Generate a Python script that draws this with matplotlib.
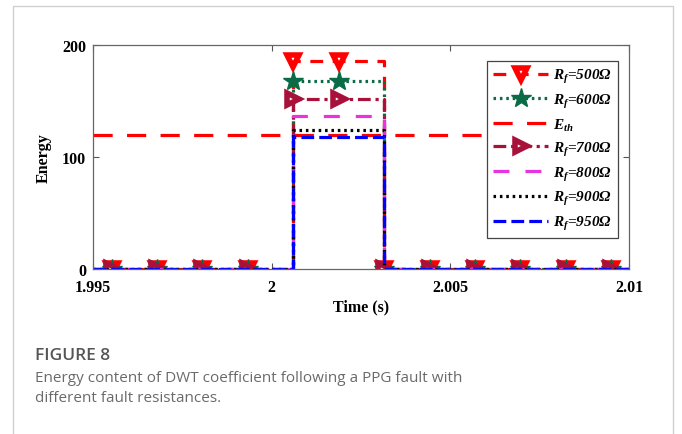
import matplotlib
matplotlib.use("Agg")
import matplotlib.pyplot as plt
from matplotlib.patches import Rectangle

# sample instants of the DWT energy window (s)
t = [1.995, 1.99552, 1.99679, 1.99806, 1.99933, 2.00061, 2.00188,
     2.00315, 2.00442, 2.00569, 2.00696, 2.00823, 2.0095, 2.01]

# energy plateau during the fault for each fault resistance
e_500 = [0, 0, 0, 0, 0, 186, 186, 0, 0, 0, 0, 0, 0, 0]
e_600 = [0, 0, 0, 0, 0, 168, 168, 0, 0, 0, 0, 0, 0, 0]
e_700 = [0, 0, 0, 0, 0, 152, 152, 0, 0, 0, 0, 0, 0, 0]
e_800 = [0, 0, 0, 0, 0, 137, 137, 0, 0, 0, 0, 0, 0, 0]
e_900 = [0, 0, 0, 0, 0, 124, 124, 0, 0, 0, 0, 0, 0, 0]
e_950 = [0, 0, 0, 0, 0, 118, 118, 0, 0, 0, 0, 0, 0, 0]
e_th = 120

xticks = [1.995, 2.0, 2.005, 2.01]
xtick_labels = ["1.995", "2", "2.005", "2.01"]
yticks = [0, 100, 200]

plt.rcParams["font.family"] = "Liberation Serif"
plt.rcParams["mathtext.fontset"] = "custom"
plt.rcParams["mathtext.it"] = "Liberation Serif:italic:bold"
plt.rcParams["mathtext.rm"] = "Liberation Serif:italic:bold"

fig = plt.figure(figsize=(6.82, 4.35), dpi=100)

# card outline
fig.patches.append(Rectangle((13 / 682, -0.1), 660 / 682, 1.1 - 7 / 435,
                             transform=fig.transFigure, fill=False,
                             edgecolor="#d0d0d0", linewidth=1.0))

ax = fig.add_axes([93 / 682, 1 - 270 / 435, 536 / 682, 224 / 435])

lw = 2.3
mk = slice(1, -1)
ax.plot(t, e_500, color="#ff0000", lw=lw, dashes=(4, 3), drawstyle="steps-post",
        marker="v", markersize=9, mfc="white", mec="#ff0000", mew=4,
        markevery=mk, label=r"$R_f$=500Ω")
ax.plot(t, e_600, color="#0b6b47", lw=lw, dashes=(0.8, 1.2), drawstyle="steps-post",
        marker="*", markersize=15, mfc="#0b6b47", mec="#0b6b47",
        markevery=mk, label=r"$R_f$=600Ω")
ax.plot([t[0], t[-1]], [e_th, e_th], color="#ff0000", lw=lw, dashes=(6, 4.5),
        label=r"$E_{th}$")
ax.plot(t, e_700, color="#a8123a", lw=lw, dashes=(4, 1.5, 1, 1.5),
        drawstyle="steps-post", marker=">", markersize=9, mfc="white",
        mec="#a8123a", mew=4, markevery=mk, label=r"$R_f$=700Ω")
ax.plot(t, e_800, color="#e733e0", lw=lw, dashes=(5, 5), drawstyle="steps-post",
        label=r"$R_f$=800Ω")
ax.plot(t, e_900, color="black", lw=lw, dashes=(0.8, 1.2), drawstyle="steps-post",
        label=r"$R_f$=900Ω")
ax.plot(t, e_950, color="#0000ff", lw=lw, dashes=(4, 1.6), drawstyle="steps-post",
        label=r"$R_f$=950Ω")

ax.set_xlim(1.995, 2.01)
ax.set_ylim(0, 200)
ax.set_xticks(xticks)
ax.set_xticklabels(xtick_labels)
ax.set_yticks(yticks)
ax.tick_params(direction="in", top=True, right=True, length=4, width=0.8,
               color="#555555", labelsize=11.5)
ax.tick_params(axis="x", pad=7)
ax.tick_params(axis="y", pad=5)
for lab in ax.get_xticklabels() + ax.get_yticklabels():
    lab.set_fontweight("bold")
for sp in ax.spines.values():
    sp.set_color("#666666")
    sp.set_linewidth(0.9)

ax.set_xlabel("Time (s)", fontsize=11.5, fontweight="bold", labelpad=3)
ax.set_ylabel("Energy", fontsize=11.5, fontweight="bold", labelpad=7)

leg = ax.legend(loc="upper right", bbox_to_anchor=(0.979, 0.929),
                borderaxespad=0, fancybox=False, framealpha=1, numpoints=1,
                handlelength=3.6, handletextpad=0.3, labelspacing=0.45,
                borderpad=0.4, prop={"family": "Liberation Serif",
                                     "weight": "bold", "style": "italic",
                                     "size": 11})
leg.get_frame().set_edgecolor("#444444")
leg.get_frame().set_linewidth(0.9)

fig.text(35 / 682, 1 - 360 / 435, "FIGURE 8", family="Open Sans",
         fontsize=12.5, color="#555555", va="baseline", fontweight="semibold")
fig.text(35 / 682, 1 - 382 / 435,
         "Energy content of DWT coefficient following a PPG fault with",
         family="Open Sans", fontsize=11, color="#6a6a6a", va="baseline")
fig.text(35 / 682, 1 - 402 / 435, "different fault resistances.",
         family="Open Sans", fontsize=11, color="#6a6a6a", va="baseline")

fig.savefig("out.png", dpi=100)
